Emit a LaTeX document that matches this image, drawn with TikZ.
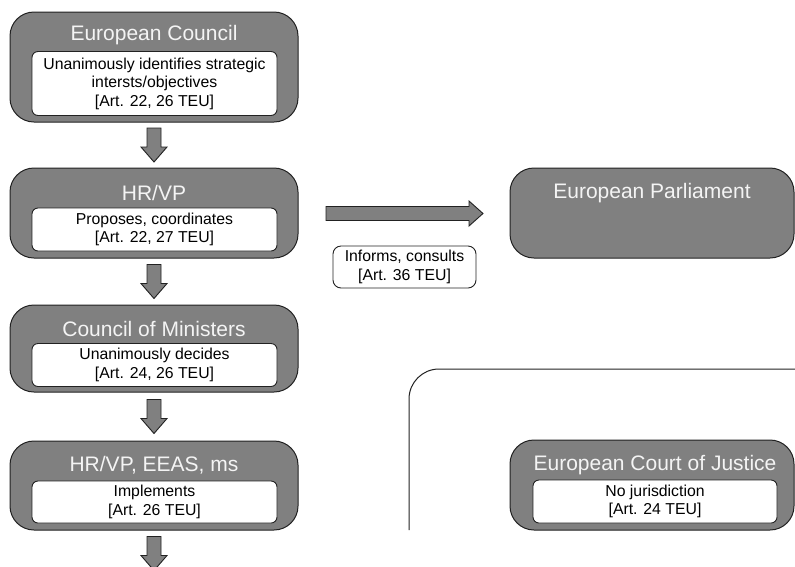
\documentclass[tikz,border=0pt]{standalone}
\usepackage{fontspec}
\setmainfont{Liberation Sans}
\usetikzlibrary{calc}
\definecolor{boxgray}{HTML}{808080}
\definecolor{titlewhite}{HTML}{F4F4F4}
\definecolor{edge}{HTML}{222222}
\tikzset{
  outerbox/.style={draw=edge, line width=1pt, fill=boxgray, rounded corners=24pt, minimum width=288pt, inner sep=0pt},
  titletext/.style={text=titlewhite, font=\fontsize{21}{24}\selectfont, inner sep=0pt, anchor=center},
  innerbox/.style={draw=edge, line width=0.9pt, fill=white, rounded corners=6pt, minimum width=245pt, inner sep=0pt, align=center, font=\fontsize{15.8}{18.5}\selectfont},
  blk/.style={draw=edge, line width=0.9pt, fill=boxgray, line join=miter},
  downblk/.pic={\path[blk] (-7,-17) -- (7,-17) -- (7,2) -- (13,2) -- (0,17) -- (-13,2) -- (-7,2) -- cycle;},
  rightblk/.pic={\path[blk] (-78.5,-7) -- (64.5,-7) -- (64.5,-12.5) -- (78.5,0) -- (64.5,12.5) -- (64.5,7) -- (-78.5,7) -- cycle;},
  notebox/.style={draw=edge, line width=0.9pt, fill=white, rounded corners=8pt, minimum width=143pt, minimum height=42pt, inner sep=0pt, align=center, font=\fontsize{15.8}{18.5}\selectfont},
}
\begin{document}
\begin{tikzpicture}[x=1pt,y=-1pt]
\clip (0,0) rectangle (795,566);
\fill[white] (0,0) rectangle (795,566);
% left column
\node[outerbox, minimum height=110pt] (ec) at (154,67) {};
\node[titletext] (ect) at (154,35) {European Council};
\node[innerbox, minimum height=64pt] (eci) at (154.5,83.5) {Unanimously identifies strategic\\intersts/objectives\\{}[Art. 22, 26 TEU]};

\node[outerbox, minimum height=90pt] (hr) at (154,213) {};
\node[titletext] (hrt) at (154,193) {HR/VP};
\node[innerbox, minimum height=43pt] (hri) at (154.5,229.5) {Proposes, coordinates\\{}[Art. 22, 27 TEU]};

\node[outerbox, minimum height=87pt] (cm) at (154,348.5) {};
\node[titletext] (cmt) at (154,329) {Council of Ministers};
\node[innerbox, minimum height=43pt] (cmi) at (154.5,365) {Unanimously decides\\{}[Art. 24, 26 TEU]};

\node[outerbox, minimum height=89pt] (im) at (154,485.5) {};
\node[titletext] (imt) at (154,465) {HR/VP, EEAS, ms};
\node[innerbox, minimum height=42pt] (imi) at (154.5,502) {Implements\\{}[Art. 26 TEU]};

\coordinate (a1) at ($(ec.south)!0.5!(hr.north)$);
\coordinate (a2) at ($(hr.south)!0.5!(cm.north)$);
\coordinate (a3) at ($(cm.south)!0.5!(im.north)$);
\coordinate (a4) at ($(im.south)+(0,23)$);
\pic at (a1) {downblk};
\pic at (a2) {downblk};
\pic at (a3) {downblk};
\pic at (a4) {downblk};

% right side
\node[outerbox, minimum width=284pt, minimum height=90pt] (ep) at (652,213) {};
\node[titletext] (ept) at (652,193) {European Parliament};
\coordinate (ra) at (404.5,213.5);
\pic at (ra) {rightblk};
\node[notebox] (inf) at (404.5,267) {Informs, consults\\{}[Art. 36 TEU]};

\coordinate (frA) at (409,530);
\coordinate (frB) at (820,369);
\draw[edge, line width=1pt, rounded corners=30pt] (frA) |- (frB);

\node[outerbox, minimum width=284pt, minimum height=90pt] (ecj) at (652,485) {};
\node[titletext] (ecjt) at (655,465) {European Court of Justice};
\node[innerbox, minimum width=244pt, minimum height=43pt] (ecji) at (655,501.5) {No jurisdiction\\{}[Art. 24 TEU]};
\end{tikzpicture}
\end{document}
